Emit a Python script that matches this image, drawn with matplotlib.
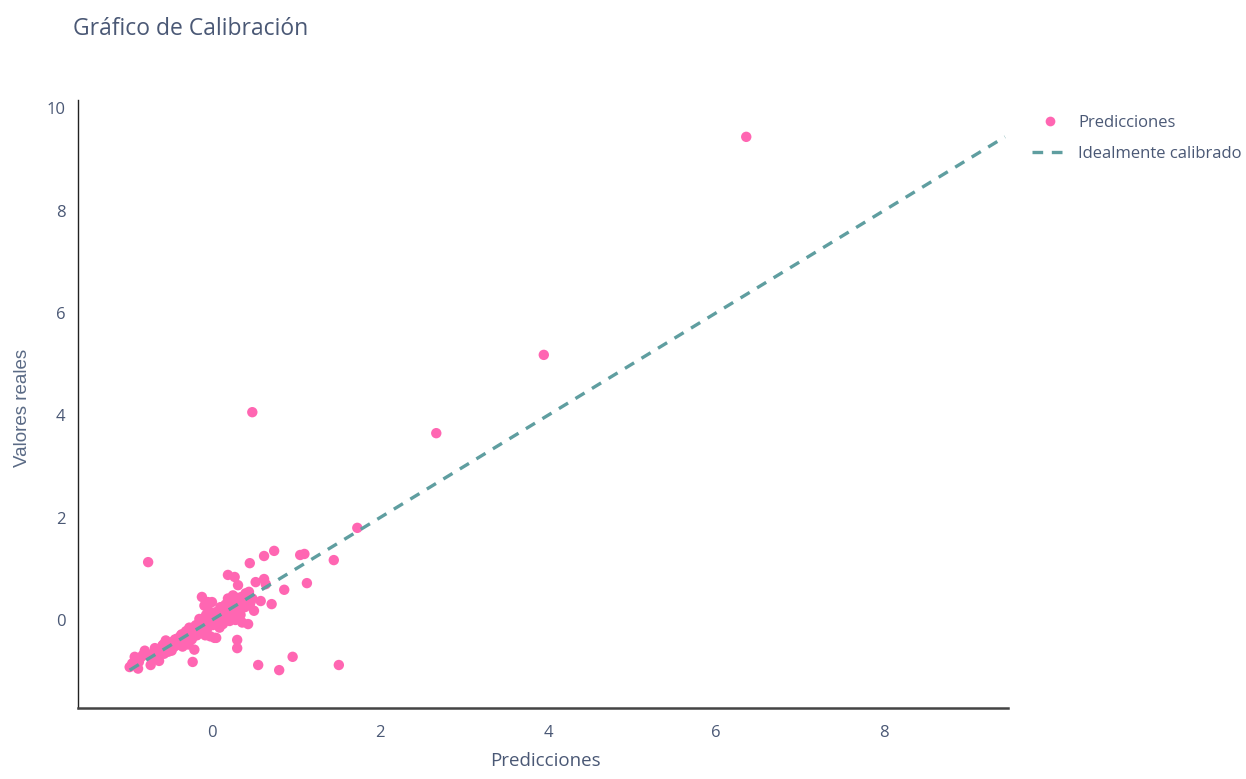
import matplotlib
matplotlib.use("Agg")
import matplotlib.pyplot as plt
from matplotlib.lines import Line2D

# Predicciones (x) and valores reales (y)
predicciones = [
    6.36, 3.95, 2.67, 0.48, 1.73, -0.76, 1.45, 1.05, 1.10, 0.74, 0.62, 0.45,
    1.13, 0.86, 0.71, 0.96, 1.51, 0.55, 0.80, -0.23,
    -0.98, -0.88, -0.87, -0.84, -0.80, -0.78, -0.73, -0.71, -0.69, -0.66,
    -0.63, -0.61, -0.59, -0.57, -0.55, -0.53, -0.50, -0.48, -0.46, -0.43,
    -0.41, -0.39, -0.37, -0.35, -0.33, -0.31, -0.30, -0.28, -0.27, -0.25,
    -0.24, -0.22, -0.21, -0.19, -0.18, -0.16, -0.15, -0.14, -0.12, -0.10,
    -0.09, -0.08, -0.07, -0.06, -0.05, -0.04, -0.03, -0.02, 0.00, 0.01,
    0.02, 0.03, 0.04, 0.05, 0.06, 0.08, 0.09, 0.10, 0.12, 0.13,
    0.15, 0.16, 0.18, 0.19, 0.19, 0.27, 0.21, 0.22, 0.23, 0.25,
    0.26, 0.28, 0.31, 0.30, 0.30, 0.31, 0.33, 0.35, 0.36, 0.38,
    0.40, 0.41, 0.43, 0.44, 0.46, 0.48, 0.50, 0.52, 0.62, 0.64,
    0.58, 0.05, -0.92, -0.95, -0.82, -0.65, -0.45, -0.36, -0.20, -0.11,
    0.07, 0.14, 0.24, 0.34, 0.39, 0.45, -0.26, -0.04, 0.17, 0.28,
    -0.90, -0.75, -0.68, -0.58, -0.52, -0.44, -0.32, -0.17, -0.13, 0.11,
]
valores_reales = [
    9.44, 5.18, 3.65, 4.06, 1.80, 1.13, 1.17, 1.27, 1.29, 1.35, 1.25, 1.11,
    0.72, 0.59, 0.31, -0.72, -0.88, -0.88, -0.98, -0.82,
    -0.92, -0.95, -0.82, -0.72, -0.60, -0.68, -0.88, -0.76, -0.64, -0.70,
    -0.80, -0.58, -0.50, -0.66, -0.40, -0.55, -0.47, -0.60, -0.42, -0.50,
    -0.36, -0.45, -0.30, -0.52, -0.40, -0.22, -0.33, -0.48, -0.15, -0.28,
    -0.38, -0.20, -0.58, -0.10, -0.30, -0.24, 0.02, -0.16, 0.45, -0.05,
    0.28, -0.30, 0.10, -0.18, 0.35, -0.02, 0.05, -0.32, 0.35, -0.10,
    0.08, -0.35, 0.15, -0.05, 0.02, 0.12, -0.15, 0.25, 0.05, -0.08,
    0.18, 0.30, 0.10, 0.42, 0.88, 0.84, -0.02, 0.22, 0.35, 0.48,
    0.12, 0.00, 0.68, -0.39, -0.55, 0.30, 0.20, 0.45, -0.05, 0.38,
    0.52, 0.28, -0.08, 0.55, 0.35, 0.42, 0.18, 0.74, 0.80, 0.70,
    0.37, -0.35, -0.72, -0.85, -0.68, -0.58, -0.52, -0.28, -0.12, -0.22,
    0.00, 0.20, 0.40, 0.10, 0.25, 0.30, -0.35, 0.18, 0.02, 0.44,
    -0.85, -0.70, -0.55, -0.48, -0.62, -0.38, -0.26, -0.22, -0.02, 0.15,
]

titulo = "Gráfico de Calibración"
x_label = "Predicciones"
y_label = "Valores reales"
serie_puntos = "Predicciones"
serie_linea = "Idealmente calibrado"

text_color = "#4a5875"
pink = "#ff66b2"
teal = "#5f9ea0"

fig = plt.figure(figsize=(12.46, 7.79), dpi=100)
ax = fig.add_axes([78 / 1246, 71 / 779, 930 / 1246, 608 / 779])

ax.scatter(predicciones, valores_reales, s=56, color=pink, edgecolors="none",
           zorder=2)
lo = min(min(predicciones), min(valores_reales))
hi = max(max(predicciones), max(valores_reales))
ax.plot([lo, hi], [lo, hi], color=teal, lw=2.4, ls=(0, (3.2, 2.6)), zorder=3)

ax.set_xlim(-1.595, 9.476)
ax.set_ylim(-1.72, 10.16)
ax.set_xticks([0, 2, 4, 6, 8])
ax.set_yticks([0, 2, 4, 6, 8, 10])
for s in ["top", "right"]:
    ax.spines[s].set_visible(False)
ax.spines["left"].set_color("#222222")
ax.spines["left"].set_linewidth(1.0)
ax.spines["bottom"].set_color("#444444")
ax.spines["bottom"].set_linewidth(1.8)
ax.tick_params(length=0, labelsize=12, labelcolor=text_color)
for lab in ax.get_xticklabels() + ax.get_yticklabels():
    lab.set_fontfamily("Open Sans")
ax.tick_params(axis="x", pad=12)
ax.tick_params(axis="y", pad=9)

ax.set_xlabel(x_label, fontsize=13.5, color=text_color, family="Open Sans")
ax.set_ylabel(y_label, fontsize=13.5, color="#5a6a85", family="Liberation Sans")
ax.yaxis.set_label_coords(-47 / 930, (708 - 408) / 608)
ax.xaxis.set_label_coords((545 - 78) / 930, -(752 - 708) / 608)

fig.text(73 / 1246, 1 - 29 / 779, titulo, fontsize=16.5, color=text_color,
         family="Open Sans", va="center", ha="left")

handles = [
    Line2D([], [], marker="o", ls="none", color=pink, markersize=7,
           markeredgewidth=0),
    Line2D([], [], color=teal, lw=2.4, ls=(0, (3.2, 2.6))),
]
fig.legend(handles, [serie_puntos, serie_linea], loc="upper left",
           bbox_to_anchor=(1025 / 1246, 1 - 108 / 779), frameon=False,
           prop={"family": "Open Sans", "size": 12}, labelcolor=text_color,
           handlelength=2.2, handletextpad=0.6, labelspacing=0.9,
           borderaxespad=0)

fig.savefig("out.png", dpi=100, facecolor="white")
